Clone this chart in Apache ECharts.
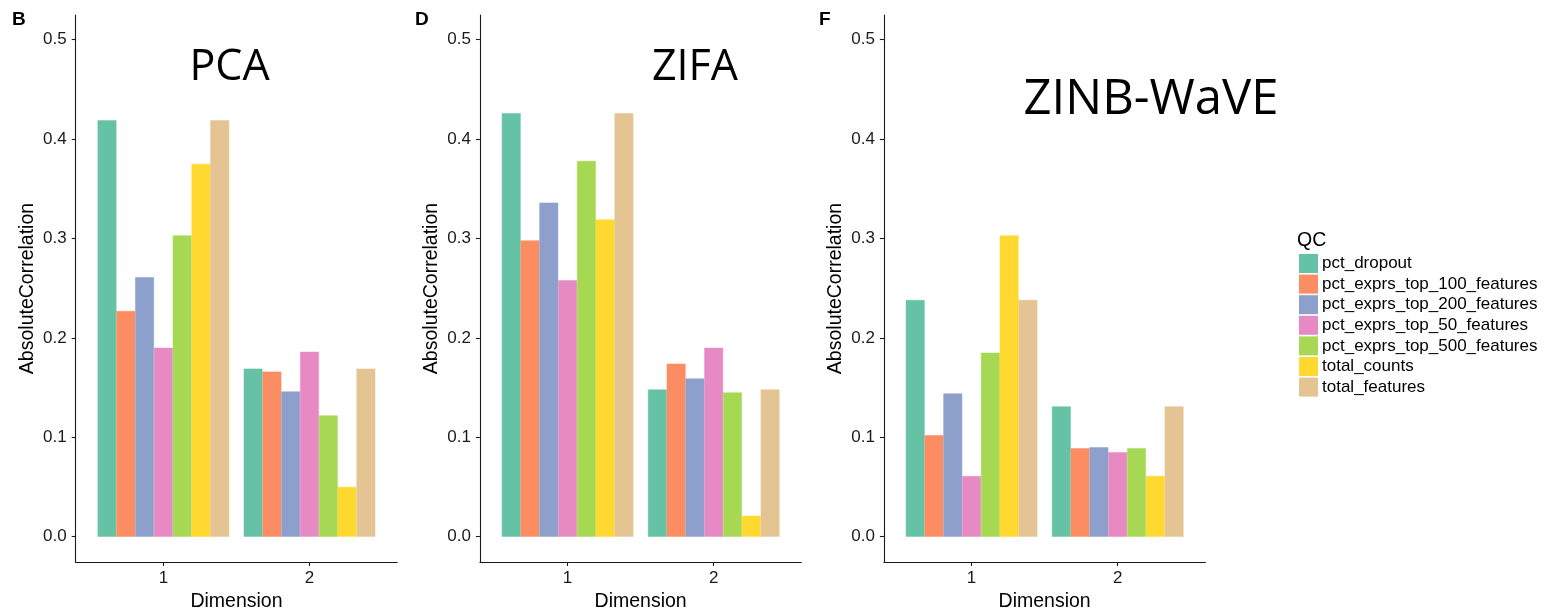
<!DOCTYPE html>
<html>
<head>
<meta charset="utf-8">
<title>Absolute correlation of QC measures with latent dimensions</title>
<script src="https://cdn.jsdelivr.net/npm/echarts@6/dist/echarts.min.js"></script>
<style>
  html, body { margin: 0; padding: 0; background: #fff; }
  #chart { width: 1545px; height: 610px; }
</style>
</head>
<body>
<div id="chart"></div>
<script>
// Latent dimensions on the x axis
const dimensions = [1, 2];

// QC measures (legend order)
const qcMetrics = [
  'pct_dropout',
  'pct_exprs_top_100_features',
  'pct_exprs_top_200_features',
  'pct_exprs_top_50_features',
  'pct_exprs_top_500_features',
  'total_counts',
  'total_features'
];

// Absolute correlation per QC measure, one array per method and dimension
const pcaDim1  = [0.419, 0.227, 0.261, 0.190, 0.303, 0.375, 0.419];
const pcaDim2  = [0.169, 0.166, 0.146, 0.186, 0.122, 0.050, 0.169];
const zifaDim1 = [0.426, 0.298, 0.336, 0.258, 0.378, 0.319, 0.426];
const zifaDim2 = [0.148, 0.174, 0.159, 0.190, 0.145, 0.021, 0.148];
const zinbDim1 = [0.238, 0.102, 0.144, 0.061, 0.185, 0.303, 0.238];
const zinbDim2 = [0.131, 0.089, 0.090, 0.085, 0.089, 0.061, 0.131];

const yTicks = [0.0, 0.1, 0.2, 0.3, 0.4, 0.5];

const panels = [
  { tag: 'B', title: 'PCA',       dim1: pcaDim1,  dim2: pcaDim2  },
  { tag: 'D', title: 'ZIFA',      dim1: zifaDim1, dim2: zifaDim2 },
  { tag: 'F', title: 'ZINB-WaVE', dim1: zinbDim1, dim2: zinbDim2 }
];

// Set2 palette
const palette = ['#66C2A5', '#FC8D62', '#8DA0CB', '#E78AC3', '#A6D854', '#FFD92F', '#E5C494'];

const gridLefts = [75.7, 479.9, 883.9];
const gridWidth = 321.5;
const gridTop = 15;
const gridHeight = 547;

const ink = '#1a1a1a';
const tickFont = 'Liberation Sans';

const grids = [], xAxes = [], yAxes = [], series = [];

panels.forEach((p, i) => {
  grids.push({
    left: gridLefts[i], top: gridTop, width: gridWidth, height: gridHeight,
    containLabel: false, outerBoundsMode: 'none'
  });

  xAxes.push({
    type: 'value', gridIndex: i, min: 0.4, max: 2.6,
    axisLine: { show: true, onZero: false, lineStyle: { color: ink, width: 1.1 } },
    axisTick: { show: true, length: 4, customValues: dimensions, lineStyle: { color: ink, width: 1.1 } },
    axisLabel: { customValues: dimensions, formatter: v => String(v), margin: 8,
                 color: ink, fontFamily: tickFont, fontSize: 17 },
    splitLine: { show: false },
    name: 'Dimension', nameLocation: 'middle', nameGap: 27,
    nameTextStyle: { color: '#000', fontFamily: tickFont, fontSize: 19.5 }
  });

  yAxes.push({
    type: 'value', gridIndex: i, min: -0.0255, max: 0.5248,
    axisLine: { show: true, onZero: false, lineStyle: { color: ink, width: 1.1 } },
    axisTick: { show: true, length: 4, customValues: yTicks, lineStyle: { color: ink, width: 1.1 } },
    axisLabel: { customValues: yTicks, formatter: v => v.toFixed(1), margin: 9,
                 color: ink, fontFamily: tickFont, fontSize: 17 },
    splitLine: { show: false },
    name: 'AbsoluteCorrelation', nameLocation: 'middle', nameGap: 38,
    nameTextStyle: { color: '#000', fontFamily: tickFont, fontSize: 19.5 }
  });

  qcMetrics.forEach((m, k) => {
    series.push({
      type: 'bar', name: m, xAxisIndex: i, yAxisIndex: i,
      data: dimensions.map((d, j) => [d, (j === 0 ? p.dim1 : p.dim2)[k]]),
      barWidth: (90 / qcMetrics.length) + '%',
      barGap: '0%',
      // hairline border in the fill colour closes the seams between adjacent bars
      itemStyle: { color: palette[k], borderColor: palette[k], borderWidth: 0.5 },
      emphasis: { disabled: true },
      animation: false
    });
  });
});

const titleStyle = [
  { x: 229.5, y: 46, size: 43 },
  { x: 695,   y: 46, size: 43 },
  { x: 1151,  y: 76, size: 49 }
];
const tagPos = [12, 415, 819];

const graphics = [];
panels.forEach((p, i) => {
  const t = titleStyle[i];
  graphics.push({
    type: 'text', x: t.x, y: t.y,
    style: { text: p.title, fill: '#000', font: t.size + 'px "Open Sans"', textAlign: 'center', textVerticalAlign: 'top' }
  });
  graphics.push({
    type: 'text', x: tagPos[i], y: 10,
    style: { text: p.tag, fill: '#000', font: 'bold 19px "Liberation Sans"', textAlign: 'left', textVerticalAlign: 'top' }
  });
});
graphics.push({
  type: 'text', x: 1297, y: 231,
  style: { text: 'QC', fill: '#000', font: '19.5px "Liberation Sans"', textAlign: 'left', textVerticalAlign: 'top' }
});

const chart = echarts.init(document.getElementById('chart'), null, { renderer: 'canvas' });
chart.setOption({
  backgroundColor: '#fff',
  animation: false,
  color: palette,
  grid: grids,
  xAxis: xAxes,
  yAxis: yAxes,
  series: series,
  legend: {
    data: qcMetrics,
    orient: 'vertical',
    left: 1299, top: 254,
    padding: 0,
    itemWidth: 19, itemHeight: 19, itemGap: 1.6,
    icon: 'rect',
    itemStyle: { borderWidth: 0 },
    selectedMode: false,
    textStyle: { color: '#000', fontFamily: tickFont, fontSize: 17, padding: [0, 0, 0, -1] }
  },
  graphic: graphics
});
</script>
</body>
</html>
